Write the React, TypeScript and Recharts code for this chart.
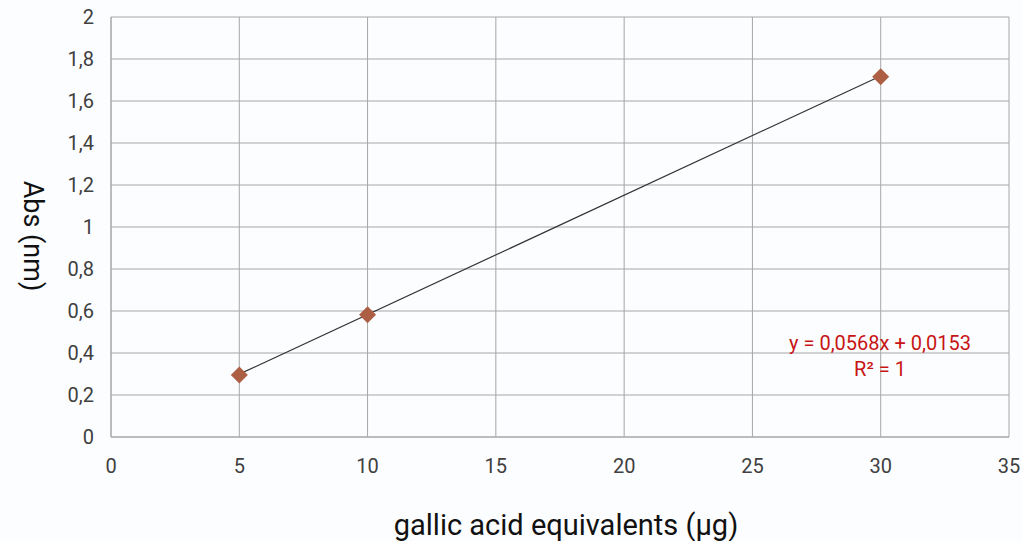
import { ScatterChart, Scatter, XAxis, YAxis, CartesianGrid } from "recharts";

// measured points
const sampleX = [5, 10, 30];
const sampleAbs = [0.295, 0.582, 1.715];

// linear trendline end points (y = 0,0568x + 0,0153)
const trendX = [5, 30];
const trendAbs = [0.2993, 1.7193];

const xTicks = [0, 5, 10, 15, 20, 25, 30, 35];
const yTicks = [0, 0.2, 0.4, 0.6, 0.8, 1, 1.2, 1.4, 1.6, 1.8, 2];

const points = sampleX.map((x, i) => ({ x, y: sampleAbs[i] }));
const trend = trendX.map((x, i) => ({ x, y: trendAbs[i] }));

const FONT = 'Roboto, "Liberation Sans", sans-serif';
const GRID = "#a6a6a6";
const comma = (v: number) => String(v).replace(".", ",");

const Diamond = (props: any) => {
  const { cx, cy } = props;
  const r = 8.5;
  return (
    <polygon
      points={`${cx},${cy - r} ${cx + r},${cy} ${cx},${cy + r} ${cx - r},${cy}`}
      fill="#ad5f43"
    />
  );
};

const NoDot = () => <g />;

// rotated y-axis title, a bit below the middle of the plot height
const YTitle = (props: any) => {
  const vb = props.viewBox || { x: 0, y: 0, height: 0 };
  const x = vb.x + 33;
  const y = vb.y + vb.height / 2 + 9;
  return (
    <text
      x={x}
      y={y}
      transform={`rotate(90 ${x} ${y})`}
      textAnchor="middle"
      dominantBaseline="central"
      fill="#111"
      fontSize={27}
      fontFamily={FONT}
    >
      Abs (nm)
    </text>
  );
};

export default function App() {
  return (
    <div
      style={{
        position: "absolute",
        left: 0,
        top: 0,
        width: 1022,
        height: 541,
        background: "#fcfdff",
        fontFamily: FONT,
      }}
    >
      <ScatterChart
        width={1022}
        height={541}
        margin={{ top: 17, right: 13, left: 0, bottom: 0 }}
      >
        <CartesianGrid stroke={GRID} strokeWidth={1} />
        <XAxis
          type="number"
          dataKey="x"
          domain={[0, 35]}
          ticks={xTicks}
          interval={0}
          height={104}
          axisLine={{ stroke: GRID }}
          tickLine={false}
          tickSize={0}
          tickMargin={22}
          tick={{ fill: "#404040", fontSize: 20, fontFamily: FONT }}
          label={{
            value: "gallic acid equivalents (µg)",
            position: "insideBottom",
            offset: 6,
            fill: "#111",
            fontSize: 29,
            fontFamily: FONT,
            dx: 6,
          }}
        />
        <YAxis
          type="number"
          dataKey="y"
          domain={[0, 2]}
          ticks={yTicks}
          interval={0}
          width={111}
          axisLine={{ stroke: GRID }}
          tickLine={false}
          tickSize={0}
          tickMargin={17}
          tickFormatter={comma}
          tick={{ fill: "#404040", fontSize: 20, fontFamily: FONT }}
          label={{ content: YTitle }}
        />
        <Scatter
          data={trend}
          line={{ stroke: "#333", strokeWidth: 1.2 }}
          shape={NoDot}
          isAnimationActive={false}
        />
        <Scatter data={points} shape={Diamond} isAnimationActive={false} />
      </ScatterChart>
      <div
        style={{
          position: "absolute",
          left: 770,
          top: 330,
          width: 220,
          textAlign: "center",
          color: "#c81414",
          fontSize: 20,
          lineHeight: "26px",
          whiteSpace: "nowrap",
        }}
      >
        <div>y = 0,0568x + 0,0153</div>
        <div>R² = 1</div>
      </div>
    </div>
  );
}
